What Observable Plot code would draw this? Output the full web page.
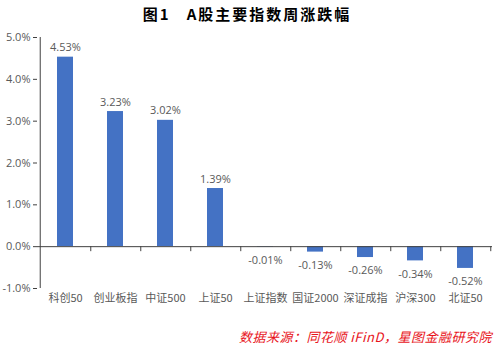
<!DOCTYPE html>
<html>
<head>
<meta charset="utf-8">
<script src="https://cdn.jsdelivr.net/npm/d3@7"></script>
<script src="https://cdn.jsdelivr.net/npm/@observablehq/plot@0.6"></script>
<style>
  body { margin: 0; background: #fff; width: 500px; height: 346px; overflow: hidden; font-family: "Noto Sans CJK SC", sans-serif; }
  #title { height: 28px; line-height: 28px; text-align: center; font-size: 15px; font-weight: bold; letter-spacing: 2px; white-space: pre; color: #000; padding-right: 6px; }
  #caption { text-align: right; padding-right: 8px; font-size: 13px; font-style: italic; color: #e8141b; letter-spacing: 0.5px; line-height: 16px; margin-top: 11px; }
</style>
</head>
<body>
<div id="title">图1   A股主要指数周涨跌幅</div>
<div id="chart"></div>
<div id="caption">数据来源：同花顺 iFinD，星图金融研究院</div>
<script>
const categories = ["科创50", "创业板指", "中证500", "上证50", "上证指数", "国证2000", "深证成指", "沪深300", "北证50"];
const values = [4.53, 3.23, 3.02, 1.39, -0.01, -0.13, -0.26, -0.34, -0.52];
const yTicks = [-1, 0, 1, 2, 3, 4, 5];

const data = categories.map((c, i) => ({name: c, value: values[i]}));
const fmtPct = d => d.toFixed(2) + "%";

const W = 500, ML = 37, MR = 8;
const step = (W - ML - MR) / categories.length;
const gray = "#595959";
const axisColor = "#404040";
const font = "'Open Sans', 'Noto Sans CJK SC', sans-serif";

const plot = Plot.plot({
  width: W,
  height: 290,
  marginLeft: ML,
  marginRight: MR,
  marginTop: 9,
  marginBottom: 30,
  style: {fontFamily: font, fontSize: "11px", color: gray, background: "#fff"},
  x: {domain: categories, paddingInner: 0.68, paddingOuter: 0.34, label: null},
  y: {domain: [-1, 5], label: null},
  marks: [
    Plot.barY(data, {x: "name", y: "value", fill: "#4472C4"}),
    Plot.ruleY([0], {stroke: axisColor, strokeWidth: 1}),
    Plot.ruleX(categories, {x: d => d, y1: 0, y2: -0.12, dx: step / 2, stroke: axisColor}),
    Plot.ruleX([-1], {x: () => categories[0], y1: -1, y2: 5, dx: -step / 2, stroke: axisColor}),
    Plot.axisY({ticks: yTicks, tickFormat: d => d.toFixed(1) + "%", tickSize: 4, tickPadding: 3, stroke: axisColor, fill: gray, fontSize: 11, label: null}),
    Plot.axisX({tickSize: 0, tickPadding: 6, fill: gray, fontSize: 11, fontFamily: "'Noto Sans CJK SC', sans-serif", label: null}),
    Plot.text(data.filter(d => d.value >= 0), {x: "name", y: "value", text: d => fmtPct(d.value), lineAnchor: "bottom", dy: -6, fill: gray, fontSize: 11}),
    Plot.text(data.filter(d => d.value < 0), {x: "name", y: "value", text: d => fmtPct(d.value), lineAnchor: "top", dy: 9, fill: gray, fontSize: 11})
  ]
});
document.getElementById("chart").appendChild(plot);
</script>
</body>
</html>
